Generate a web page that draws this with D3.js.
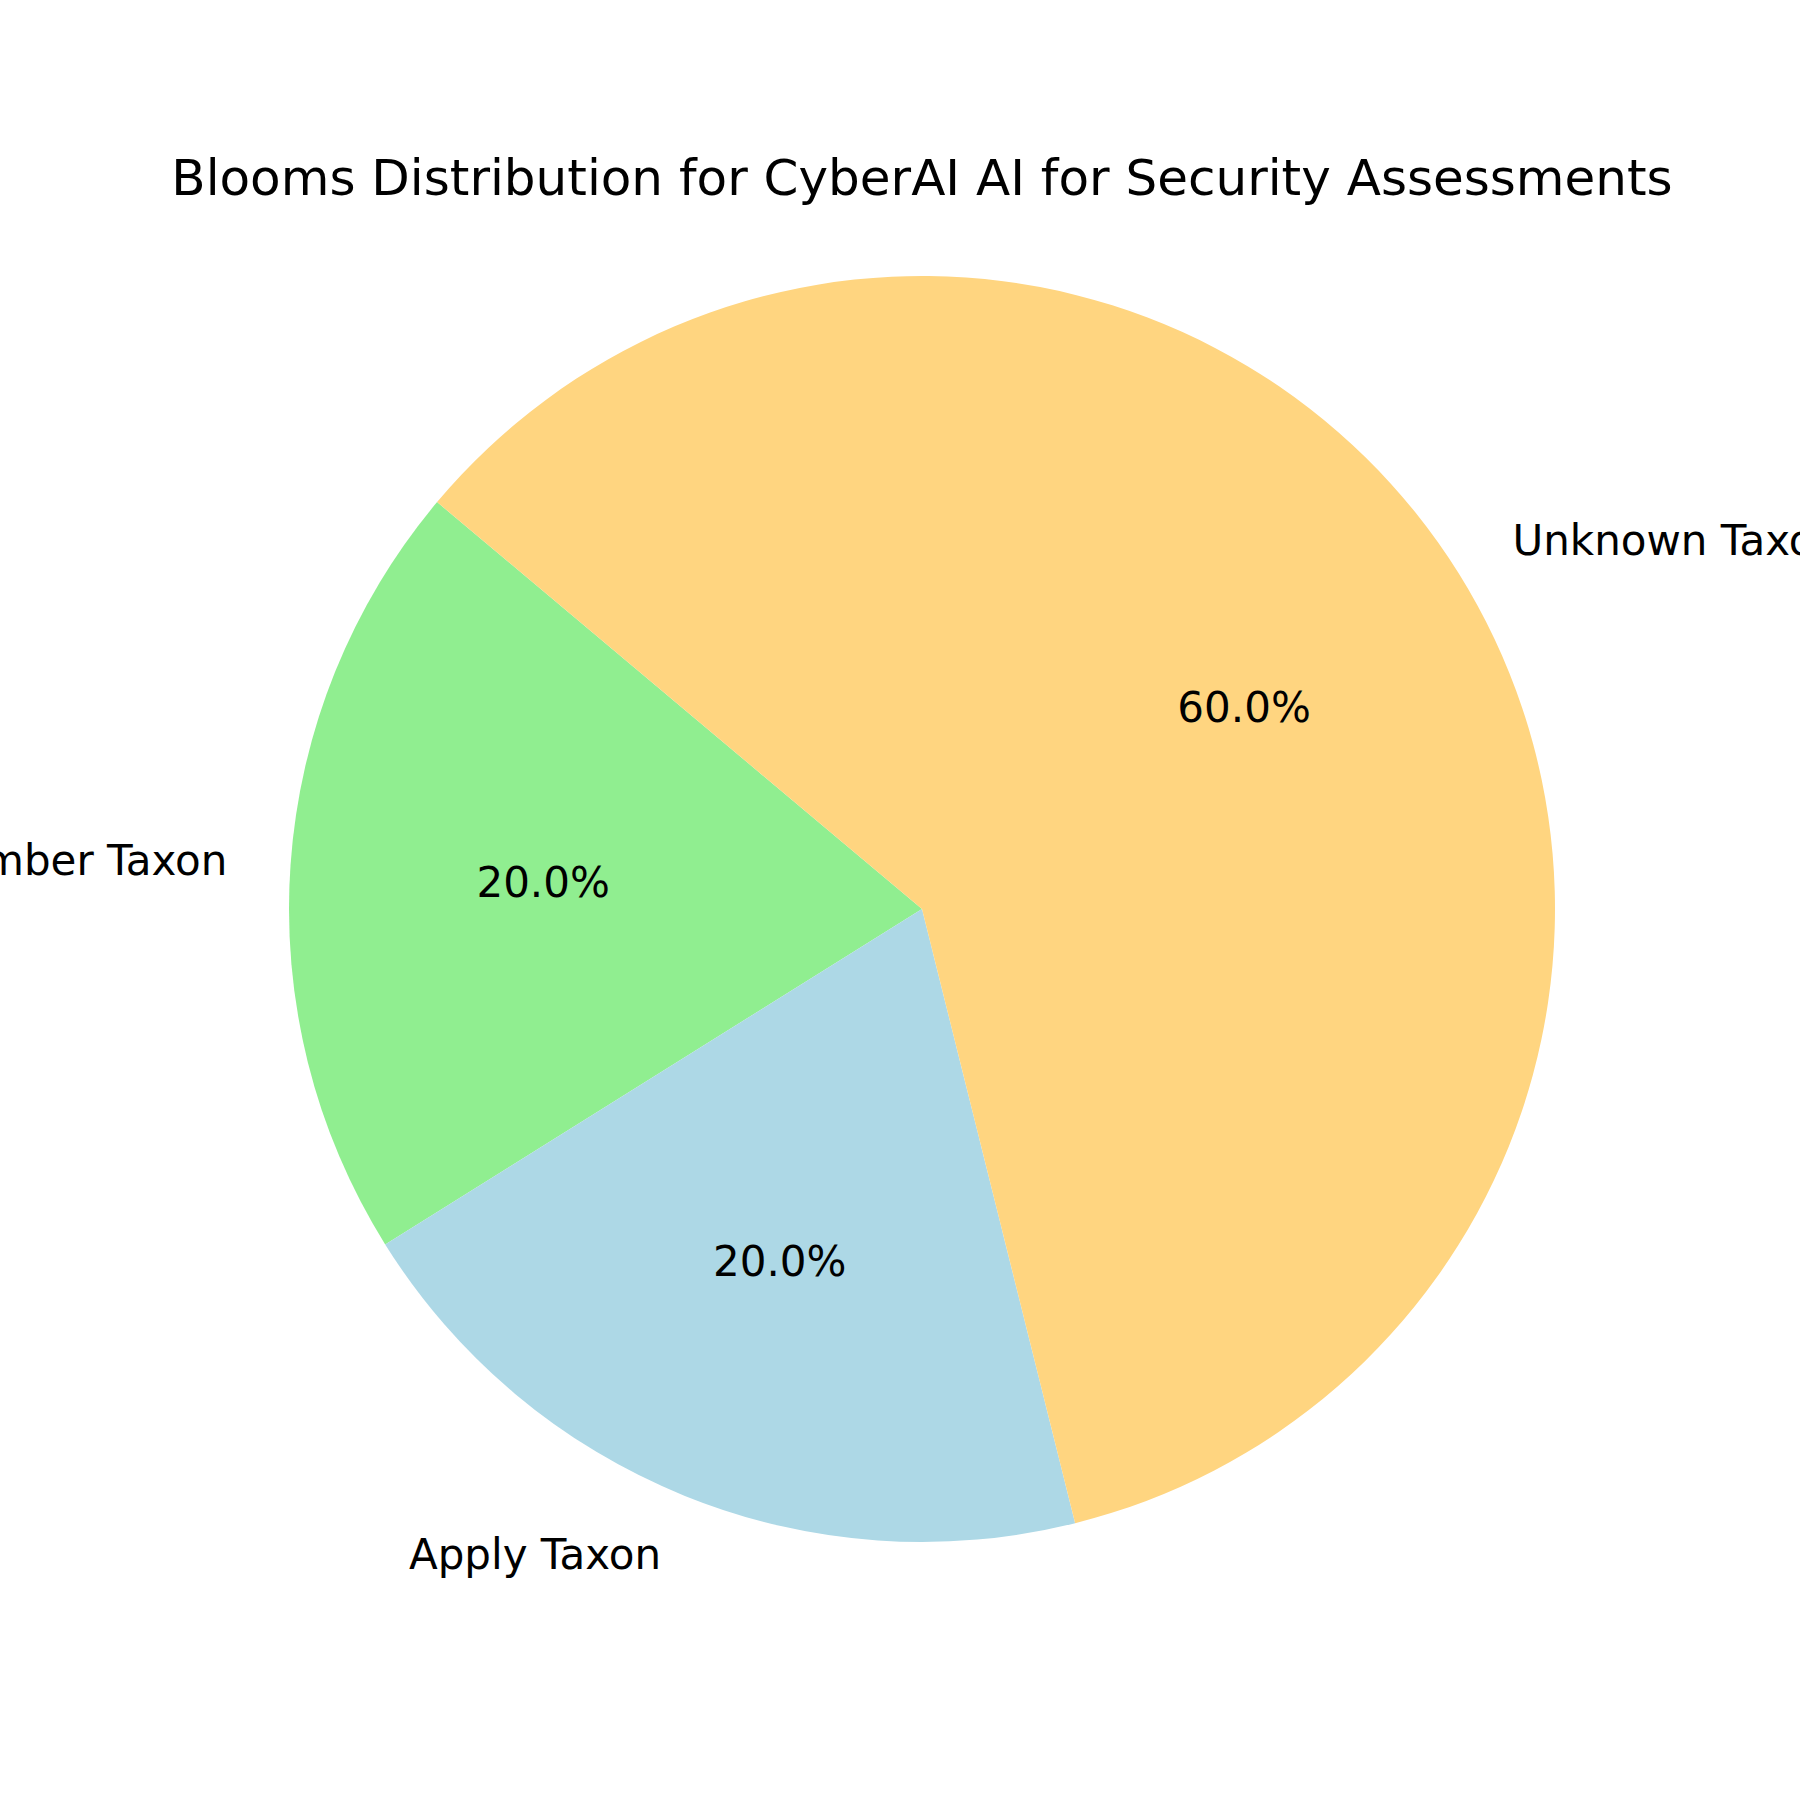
<!DOCTYPE html>
<html>
<head>
<meta charset="utf-8">
<script src="https://cdn.jsdelivr.net/npm/d3@7"></script>
<style>
  body { margin: 0; background: #fff; }
  text { font-family: "DejaVu Sans", sans-serif; fill: #000; }
</style>
</head>
<body>
<script>
// chart data
var labels = ["Remember Taxon", "Apply Taxon", "Unknown Taxon"];
var counts = [1, 1, 3];
var colors = ["#90EE90", "#ADD8E6", "#FFD580"];
var title = "Blooms Distribution for CyberAI AI for Security Assessments";

var width = 1800, height = 1800;
var cx = 922, cy = 909, radius = 633;
var startDeg = 140; // matplotlib startangle, counterclockwise

var svg = d3.select("body")
    .append("svg")
    .attr("width", width)
    .attr("height", height);

svg.append("rect")
    .attr("width", width)
    .attr("height", height)
    .attr("fill", "#fff");

var total = d3.sum(counts);
var rows = labels.map(function(l, i) { return {label: l, value: counts[i], color: colors[i]}; });

// d3 angles go clockwise from 12 o'clock, so counterclockwise means decreasing
var a0 = (90 - startDeg) * Math.PI / 180;
var pie = d3.pie()
    .sort(null)
    .value(function(d) { return d.value; })
    .startAngle(a0)
    .endAngle(a0 - 2 * Math.PI);

var arcs = pie(rows);

var g = svg.append("g")
    .attr("transform", "translate(" + cx + "," + cy + ")");

var arc = d3.arc().innerRadius(0).outerRadius(radius);
var labelArc = d3.arc().innerRadius(radius * 1.1).outerRadius(radius * 1.1);
var pctArc = d3.arc().innerRadius(radius * 0.6).outerRadius(radius * 0.6);

g.selectAll("path.slice")
    .data(arcs)
    .enter().append("path")
    .attr("class", "slice")
    .attr("d", arc)
    .attr("fill", function(d) { return d.data.color; });

g.selectAll("text.lbl")
    .data(arcs)
    .enter().append("text")
    .attr("class", "lbl")
    .attr("x", function(d) { return labelArc.centroid(d)[0]; })
    .attr("y", function(d) { return labelArc.centroid(d)[1]; })
    .attr("dy", "0.35em")
    .attr("text-anchor", function(d) { return labelArc.centroid(d)[0] > 0 ? "start" : "end"; })
    .style("font-size", "42px")
    .text(function(d) { return d.data.label; });

g.selectAll("text.pct")
    .data(arcs)
    .enter().append("text")
    .attr("class", "pct")
    .attr("x", function(d) { return pctArc.centroid(d)[0]; })
    .attr("y", function(d) { return pctArc.centroid(d)[1]; })
    .attr("dy", "0.35em")
    .attr("text-anchor", "middle")
    .style("font-size", "42px")
    .text(function(d) { return (d.data.value / total * 100).toFixed(1) + "%"; });

svg.append("text")
    .attr("x", cx)
    .attr("y", 195)
    .attr("text-anchor", "middle")
    .style("font-size", "50px")
    .text(title);
</script>
</body>
</html>
